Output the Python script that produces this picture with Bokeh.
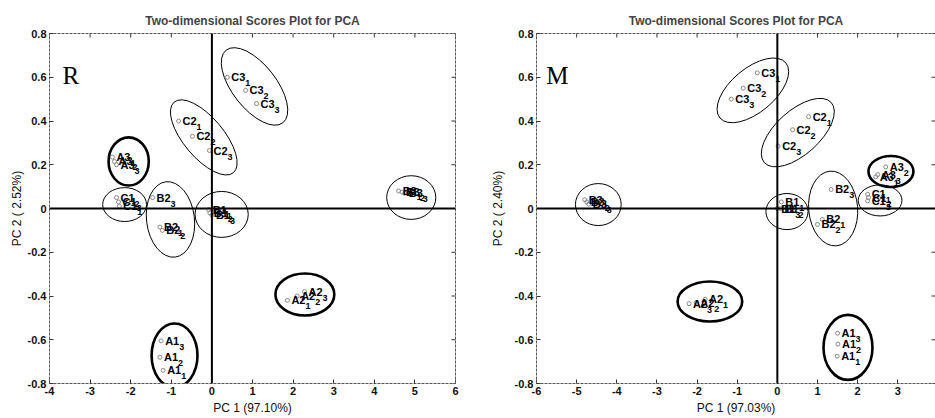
from bokeh.plotting import figure
from bokeh.layouts import row
from bokeh.models import Span, Label, FixedTicker, LinearAxis, ColumnDataSource, Range1d
from bokeh.embed import file_html
from bokeh.resources import INLINE
from bokeh.core.properties import value

TITLE = "Two-dimensional Scores Plot for PCA"
FONT = "Liberation Sans"

y_range = (-0.8, 0.8)
y_ticks = [-0.8, -0.6, -0.4, -0.2, 0, 0.2, 0.4, 0.6, 0.8]
y_tick_labels = ["-0.8", "-0.6", "-0.4", "-0.2", "0", "0.2", "0.4", "0.6", "0.8"]

# ---------------- Panel R ----------------
r_tag = "R"
r_xlabel = "PC 1 (97.10%)"
r_ylabel = "PC 2 ( 2.52%)"
r_x_range = (-4, 6)
r_x_ticks = [-4, -3, -2, -1, 0, 1, 2, 3, 4, 5, 6]
r_x_tick_labels = ["-4", "-3", "-2", "-1", "0", "1", "2", "3", "4", "5", "6"]
r_group = ["A1"] * 3 + ["A2"] * 3 + ["A3"] * 3 + ["B1"] * 3 + ["B2"] * 3 + ["B3"] * 3 + ["C1"] * 3 + ["C2"] * 3 + ["C3"] * 3
r_rep = ["1", "2", "3"] * 9
r_pc1 = [-1.20, -1.28, -1.25,
         1.86, 2.10, 2.28,
         -2.45, -2.40, -2.35,
         -0.08, -0.05, 0.00,
         -1.28, -1.22, -1.46,
         4.60, 4.68, 4.75,
         -2.28, -2.35, -2.30,
         -0.82, -0.48, -0.06,
         0.38, 0.83, 1.10]
r_pc2 = [-0.740, -0.680, -0.605,
         -0.420, -0.400, -0.380,
         0.235, 0.215, 0.200,
         -0.005, -0.020, -0.030,
         -0.085, -0.100, 0.050,
         0.080, 0.075, 0.070,
         0.010, 0.050, 0.030,
         0.400, 0.330, 0.265,
         0.600, 0.540, 0.480]
r_ell_group = ["A1", "A2", "A3", "B1", "B2", "B3", "C1", "C2", "C3"]
r_ell_x = [-0.92, 2.29, -2.05, 0.24, -1.02, 4.91, -2.15, -0.20, 1.05]
r_ell_y = [-0.672, -0.393, 0.215, -0.027, -0.050, 0.050, 0.018, 0.325, 0.558]
r_ell_w = [1.13, 1.45, 0.99, 1.31, 1.18, 1.21, 1.08, 2.27, 2.27]
r_ell_h = [0.293, 0.192, 0.220, 0.210, 0.347, 0.200, 0.155, 0.183, 0.201]
r_ell_angle = [0, 0, 0, 0, 7, 0, 0, -50, -52]
r_tag_pos = (-3.68, 0.61)

# ---------------- Panel M ----------------
m_tag = "M"
m_xlabel = "PC 1 (97.03%)"
m_ylabel = "PC 2 ( 2.40%)"
m_x_range = (-6, 3.94)
m_x_ticks = [-6, -5, -4, -3, -2, -1, 0, 1, 2, 3]
m_x_tick_labels = ["-6", "-5", "-4", "-3", "-2", "-1", "0", "1", "2", "3"]
m_group = list(r_group)
m_rep = ["1", "2", "3"] * 9
m_pc1 = [1.49, 1.51, 1.50,
         -1.80, -2.02, -2.20,
         2.45, 2.70, 2.50,
         0.10, 0.08, 0.00,
         1.12, 1.00, 1.34,
         -4.80, -4.75, -4.70,
         2.25, 2.27, 2.25,
         0.78, 0.38, 0.02,
         -0.50, -0.85, -1.15]
m_pc2 = [-0.675, -0.620, -0.570,
         -0.415, -0.430, -0.435,
         0.145, 0.190, 0.155,
         0.030, 0.000, 0.000,
         -0.050, -0.073, 0.087,
         0.040, 0.030, 0.020,
         0.065, 0.050, 0.035,
         0.420, 0.360, 0.285,
         0.620, 0.550, 0.500]
m_ell_group = ["A1", "A2", "A3", "B1", "B2", "B3", "C1", "C2", "C3"]
m_ell_x = [1.76, -1.68, 2.83, 0.24, 1.39, -4.46, 2.56, 0.51, -0.61]
m_ell_y = [-0.635, -0.425, 0.169, -0.014, 0.000, 0.018, 0.037, 0.347, 0.540]
m_ell_w = [1.22, 1.61, 1.12, 1.05, 1.22, 1.14, 1.09, 2.24, 2.14]
m_ell_h = [0.297, 0.183, 0.142, 0.165, 0.343, 0.192, 0.142, 0.201, 0.201]
m_ell_angle = [0, 0, 0, 0, 5, 0, 0, 42, 40]
m_tag_pos = (-5.76, 0.61)

THICK_GROUPS = {"A1", "A2", "A3"}
BORDER_COLOR = "#555555"


def style_axis(ax, ticks, labels, font_px, label_standoff):
    ax.ticker = FixedTicker(ticks=ticks)
    ax.major_label_overrides = {t: l for t, l in zip(ticks, labels)}
    ax.major_tick_in = 4
    ax.major_tick_out = 0
    ax.minor_tick_line_color = None
    ax.major_tick_line_color = "#333333"
    ax.axis_line_color = BORDER_COLOR
    ax.axis_line_width = 1
    ax.axis_line_dash = "3 1"
    ax.major_label_text_font = FONT
    ax.major_label_text_font_style = "bold"
    ax.major_label_text_color = "#111111"
    ax.major_label_text_font_size = f"{font_px}px"
    ax.major_label_standoff = 3
    ax.axis_label_text_font = FONT
    ax.axis_label_text_font_size = "12px"
    ax.axis_label_text_font_style = "normal"
    ax.axis_label_text_color = "#111111"
    ax.axis_label_standoff = label_standoff


def border_axis():
    ax = LinearAxis(ticker=FixedTicker(ticks=[]))
    ax.axis_line_color = BORDER_COLOR
    ax.axis_line_width = 1
    ax.axis_line_dash = "3 1"
    ax.major_tick_line_color = None
    ax.minor_tick_line_color = None
    ax.major_label_standoff = 0
    return ax


def make_panel(tag, tag_pos, xlabel, ylabel, x_range, x_ticks, x_tick_labels,
               group, rep, pc1, pc2, eg, ex, ey, ew, eh, ea,
               width, border_left, border_right, right_border, ylabel_standoff):
    p = figure(width=width, height=418, x_range=Range1d(*x_range), y_range=Range1d(*y_range),
               output_backend="svg", toolbar_location=None, title=TITLE,
               min_border_left=border_left, min_border_right=border_right, min_border_top=33,
               min_border_bottom=35)
    p.grid.visible = False
    p.outline_line_color = None
    p.title.align = "center"
    p.title.text_font = FONT
    p.title.text_font_size = "12px"
    p.title.text_font_style = "bold"
    p.title.standoff = 11

    p.xaxis.axis_label = xlabel
    p.yaxis.axis_label = ylabel
    style_axis(p.xaxis[0], x_ticks, x_tick_labels, 11, 3)
    style_axis(p.yaxis[0], y_ticks, y_tick_labels, 11, ylabel_standoff)
    p.add_layout(border_axis(), "above")
    if right_border:
        p.add_layout(border_axis(), "right")

    # mirrored inward ticks on the top and right edges
    top_src = ColumnDataSource(dict(x=x_ticks, y=[y_range[1]] * len(x_ticks)))
    p.scatter(x="x", y="y", source=top_src, marker="dash", size=8, angle=90, angle_units="deg",
              line_color="#333333", line_width=1)
    right_src = ColumnDataSource(dict(x=[x_range[1]] * len(y_ticks), y=y_ticks))
    p.scatter(x="x", y="y", source=right_src, marker="dash", size=8,
              line_color="#333333", line_width=1)

    p.add_layout(Span(location=0, dimension="height", line_color="black", line_width=2))
    p.add_layout(Span(location=0, dimension="width", line_color="black", line_width=2))

    esrc = ColumnDataSource(dict(x=ex, y=ey, w=ew, h=eh, a=ea,
                                 lw=[2.6 if g in THICK_GROUPS else 1.0 for g in eg]))
    p.ellipse(x="x", y="y", width="w", height="h", angle="a", angle_units="deg",
              source=esrc, fill_color=None, line_color="black", line_width="lw")

    src = ColumnDataSource(dict(x=pc1, y=pc2, g=group, r=rep))
    p.scatter(x="x", y="y", source=src, marker="circle", size=4,
              fill_color=None, line_color="#888888", line_width=1)
    p.text(x="x", y="y", text="g", source=src, x_offset=4, text_baseline="middle",
           text_align="left", text_font=value(FONT), text_font_style="bold",
           text_font_size="11px", text_color="black")
    p.text(x="x", y="y", text="r", source=src, x_offset=18, y_offset=6, text_baseline="middle",
           text_align="left", text_font=value(FONT), text_font_style="bold",
           text_font_size="9px", text_color="black")

    p.add_layout(Label(x=tag_pos[0], y=tag_pos[1], text=tag, text_font="Liberation Serif",
                       text_font_size="25px", text_color="black", text_baseline="middle"))
    return p


p1 = make_panel(r_tag, r_tag_pos, r_xlabel, r_ylabel, r_x_range, r_x_ticks, r_x_tick_labels,
                r_group, r_rep, r_pc1, r_pc2, r_ell_group, r_ell_x, r_ell_y, r_ell_w, r_ell_h,
                r_ell_angle, 487, 49, 32, True, 1)
p2 = make_panel(m_tag, m_tag_pos, m_xlabel, m_ylabel, m_x_range, m_x_ticks, m_x_tick_labels,
                m_group, m_rep, m_pc1, m_pc2, m_ell_group, m_ell_x, m_ell_y, m_ell_w, m_ell_h,
                m_ell_angle, 448, 41, 0, False, 7)

layout = row(p1, p2)
open("out.html", "w").write(file_html(layout, INLINE))
